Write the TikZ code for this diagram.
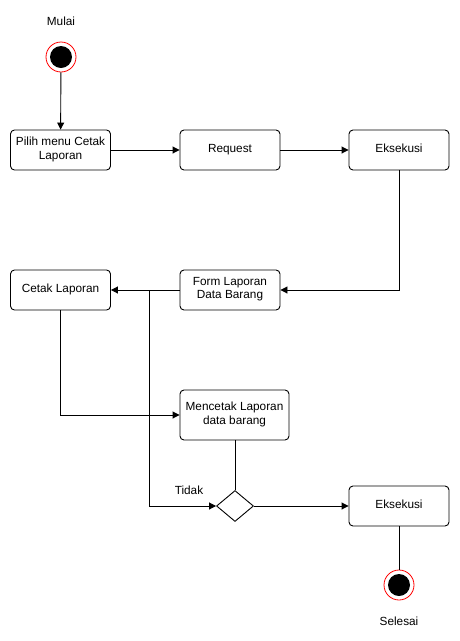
\documentclass[tikz,border=0pt]{standalone}
\usepackage{fontspec}
\setmainfont{Liberation Sans}
\usetikzlibrary{arrows.meta,shapes.geometric}
\begin{document}
\begin{tikzpicture}[x=1pt,y=-1pt,
  font=\fontsize{11.8}{13.5}\selectfont,
  act/.style={draw=black,line width=0.9pt,rounded corners=4pt,minimum width=100pt,minimum height=40pt,align=center,inner sep=1pt,
    execute at begin node={\strut}, execute at end node={\strut}},
  conn/.style={draw=black,line width=0.9pt},
  arr/.style={conn,-{Triangle[length=7pt,width=7pt]}},
  startnode/.style={circle,draw=red,line width=0.8pt,fill=white,minimum size=30pt,inner sep=0pt,
    path picture={\fill[black] (path picture bounding box.center) circle (11pt);}},
  lbl/.style={inner sep=0pt}]
\useasboundingbox (0,0) rectangle (460,641);
% nodes
\node[lbl] (mulai) at (61,21) {Mulai};
\node[startnode] (start) at (61,57) {};
\node[act] (pilih) at (60.5,150) {Pilih menu Cetak\\Laporan};
\node[act] (req) at (230,150) {Request};
\node[act] (eks1) at (399,150) {Eksekusi};
\node[act] (form) at (230,290) {Form Laporan\\Data Barang};
\node[act] (cetak) at (60.5,290) {Cetak Laporan};
\node[act,minimum width=109pt,minimum height=50pt] (mencetak) at (234.5,415) {Mencetak Laporan\\data barang};
\node[diamond,draw=black,line width=0.9pt,minimum width=37pt,minimum height=31pt,inner sep=0pt] (dec) at (235,506) {};
\node[act] (eks2) at (399,506) {Eksekusi};
\node[startnode] (end) at (399,585) {};
\node[lbl] (selesai) at (399,621) {Selesai};
\node[lbl] (tidak) at (189,490) {Tidak};
\coordinate (j) at (149,290);
% connectors
\draw[arr] (start) -- (pilih);
\draw[arr] (pilih) -- (req);
\draw[arr] (req) -- (eks1);
\draw[arr] (eks1.south) |- (form.east);
\draw[arr] (form.west) -- (cetak.east);
\draw[arr] (j) |- (dec.west);
\draw[arr] (cetak.south) |- (mencetak.west);
\draw[conn] (mencetak.south -| dec.north) -- (dec.north);
\draw[arr] (dec.east) -- (eks2.west);
\draw[conn] (eks2) -- (end);
\end{tikzpicture}
\end{document}
